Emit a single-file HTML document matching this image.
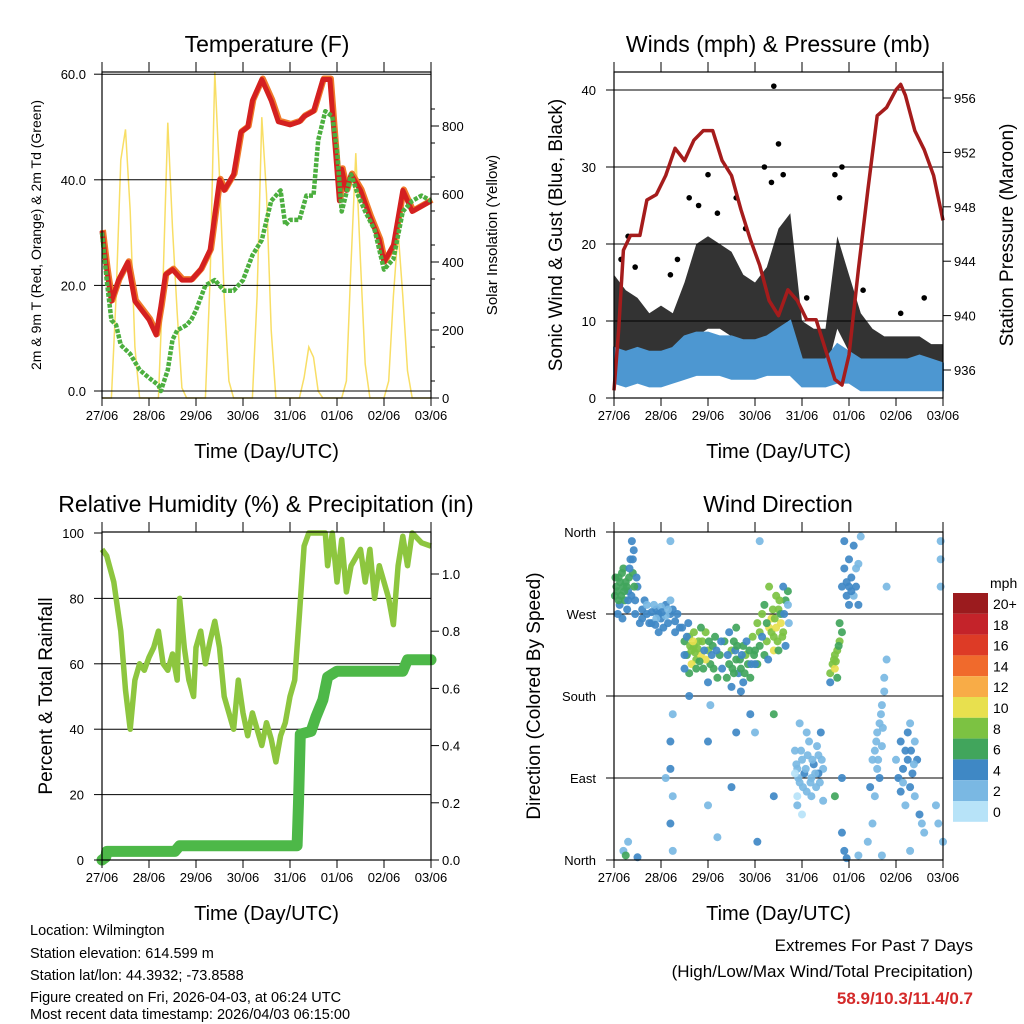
<!DOCTYPE html>
<html><head><meta charset="utf-8"><style>
body{margin:0;background:#fff;}
svg{display:block;font-family:"Liberation Sans",Arial,sans-serif;}
</style></head><body>
<svg id="chart" width="1024" height="1024" viewBox="0 0 1024 1024" xmlns="http://www.w3.org/2000/svg">
<rect width="1024" height="1024" fill="#fff"/>
<g id="g1"></g>
<g id="g2"></g>
<g id="g3"></g>
<g id="g4"></g>
<g font-size="14.5" fill="#000">
<text x="30" y="935">Location: Wilmington</text>
<text x="30" y="958">Station elevation: 614.599 m</text>
<text x="30" y="980">Station lat/lon: 44.3932; -73.8588</text>
<text x="30" y="1002">Figure created on Fri, 2026-04-03, at 06:24 UTC</text>
<text x="30" y="1024" dy="-5">Most recent data timestamp: 2026/04/03 06:15:00</text>
</g>
<g font-size="17" text-anchor="end">
<text x="973" y="951">Extremes For Past 7 Days</text>
<text x="973" y="977">(High/Low/Max Wind/Total Precipitation)</text>
<text x="973" y="1004" fill="#d42a2a" font-weight="bold">58.9/10.3/11.4/0.7</text>
</g>
</svg>
<script>
const dayLabels=["27/06","28/06","29/06","30/06","31/06","01/06","02/06","03/06"];
const tempT=[0,0.1,0.2,0.35,0.55,0.7,1.0,1.15,1.25,1.35,1.5,1.7,1.9,2.1,2.3,2.5,2.6,2.8,2.95,3.1,3.2,3.4,3.6,3.75,4.0,4.2,4.3,4.5,4.7,4.85,4.95,5.05,5.1,5.2,5.3,5.5,5.7,5.9,6.0,6.2,6.4,6.6,6.8,7.0];
const tempRed=[30.3,23,17,21,24.4,17,13.5,10.6,16,22,23,21,21,23,26.7,40,38,41,49,50,55,59,55,51,50.4,51,52,53,59,59,47.5,36,42,38,41,38,33,28.6,24.4,27.6,38,34,35,36];
const dewT=[0,0.1,0.2,0.3,0.4,0.6,0.8,1.0,1.2,1.25,1.4,1.5,1.6,1.8,1.9,2.0,2.2,2.4,2.6,2.8,3.0,3.2,3.4,3.6,3.8,3.9,4.0,4.2,4.35,4.5,4.6,4.75,4.9,5.0,5.1,5.3,5.45,5.6,5.8,6.0,6.2,6.4,6.6,6.8,7.0];
const dewGreen=[30,21,13.4,12.5,8.7,7,4,2.5,1.1,0,4,9.7,11.5,12.5,13.5,15.3,20,21,19,19,21,25.7,28.6,36,38,31.4,32.4,32.4,37,37,47.5,53,52,45.6,34,41,37,34,30.5,23,25,34,36,37,36];
const solar=[0,0,0,300,700,790,550,150,0,0, 0,0,0,350,810,500,250,30,0,0, 0,0,0,350,960,650,300,50,0,0, 0,0,0,300,826,600,200,0,0,0, 0,0,0,60,150,120,20,0,0,0, 0,0,50,400,720,400,100,0,0,0, 0,50,300,490,300,80,0,0,0,0,0];
const gustT=[0,0.25,0.5,0.75,1,1.25,1.5,1.75,2,2.25,2.5,2.75,3,3.25,3.5,3.75,4,4.25,4.5,4.75,5,5.25,5.5,5.75,6,6.25,6.5,6.75,7];
const gustLow=[5,4,4,3,4,4,6,8,9,9,8,6,6,6,8,8,4,3,3,9,6,4,3,3,2,3,2,2,2];
const gustHigh=[16,14,13,11,12,11,15,20,21,20,19,16,15,17,22,24,10,9,9,21,16,11,9,8,8,8,8,7,7];
const sonicLow=[2,1.5,2,1.5,1.5,2,2.5,3,3,3,2.5,2.5,2.5,3,3,3,1.5,1.5,1.5,2,2,1,1,1,1,1,1,1,1];
const sonicHigh=[6.5,6,6.5,6,6,6.5,8,8.5,8.5,8,8,7.5,7.5,8,9,10,5,5,5,7,6,5,5,5,5,5,5.5,5,4.5];
const gustOutT=[0.15,0.3,0.45,1.2,1.35,1.6,1.8,2.0,2.2,2.6,2.8,3.2,3.35,3.4,3.5,3.6,4.1,4.7,4.8,4.85,5.3,6.1,6.6];
const gustOutV=[18,21,17,16,18,26,25,29,24,26,22,30,28,40.5,33,29,13,29,26,30,14,11,13];
const presT=[0,0.1,0.2,0.35,0.55,0.7,0.9,1.1,1.3,1.5,1.7,1.9,2.1,2.3,2.5,2.7,2.9,3.1,3.3,3.5,3.7,3.9,4.1,4.3,4.5,4.7,4.85,5.0,5.2,5.4,5.6,5.8,6.0,6.1,6.2,6.4,6.6,6.8,7.0];
const presV=[934.5,939,944.8,945.9,945.9,948.5,948.9,950.3,952.3,951.4,952.9,953.6,953.6,951.4,950.3,947.8,945.6,943.7,941.1,940,941.9,941.1,939.7,939.7,937.5,935.3,934.9,937.1,943.4,949.2,954.7,955.3,956.6,957,956.2,953.6,952.2,950.3,947];
const rhT=[0,0.1,0.25,0.4,0.5,0.6,0.7,0.8,0.9,1.0,1.1,1.2,1.3,1.4,1.5,1.6,1.65,1.75,1.85,1.95,2.0,2.1,2.2,2.3,2.4,2.5,2.6,2.7,2.8,2.9,3.0,3.1,3.2,3.3,3.4,3.5,3.6,3.7,3.8,3.9,4.0,4.1,4.2,4.3,4.4,4.6,4.75,4.8,4.9,5.0,5.1,5.2,5.3,5.5,5.6,5.7,5.8,5.9,6.0,6.1,6.2,6.3,6.4,6.5,6.6,6.8,7.0];
const rhV=[95,93,85,70,52,40,55,60,58,62,65,70,60,58,63,55,80,65,55,50,65,70,60,67,73,65,50,45,40,55,45,38,45,40,35,42,37,30,38,42,50,55,75,96,100,100,100,90,100,85,98,82,90,95,85,95,80,90,85,80,72,90,99,90,100,97,96];
const precT=[0,0.08,0.1,1.55,1.65,4.15,4.18,4.22,4.45,4.55,4.7,4.8,5.0,6.4,6.5,7.0];
const precV=[0,0.01,0.03,0.03,0.05,0.05,0.2,0.44,0.45,0.5,0.56,0.64,0.66,0.66,0.7,0.7];
const dirPts=[[0.05,300,5],[0.1,310,6],[0.15,290,5],[0.2,320,6],[0.25,305,5],[0.3,295,4],[0.35,330,4],[0.4,315,6],[0.45,285,4],[0.5,300,4],[0.12,280,4],[0.22,295,6],[0.32,310,5],[0.42,340,4],[0.08,270,4],[0.02,290,5],[0.28,275,4],[0.38,350,3],[0.18,265,4],
[0.03,310,6],[0.07,295,6],[0.13,305,5],[0.17,315,6],[0.23,285,5],[0.27,300,6],[0.33,320,4],[0.37,290,4],[0.43,300,5],[0.48,310,4],[0.1,285,6],[0.2,300,5],[0.3,285,4],[0.4,330,4],[0.45,270,3],
[0.6,275,3],[0.7,270,4],[0.8,260,4],[0.9,275,3],[1.0,265,4],[1.1,280,3],[1.2,270,3],[0.65,285,3],[0.75,260,3],[0.85,280,2],[0.95,270,4],[1.05,255,3],[1.15,260,4],[1.25,275,3],[1.3,250,4],[0.55,260,4],[0.95,250,3],[1.2,285,2],
[0.6,265,4],[0.7,280,2],[0.8,272,4],[0.9,265,2],[1.0,278,2],[1.1,268,2],[0.88,258,4],[1.02,272,4],[1.15,275,2],[1.3,262,4],[1.35,270,4],[1.4,255,3],
[1.5,240,5],[1.55,225,6],[1.6,245,8],[1.65,230,8],[1.7,235,8],[1.75,220,7],[1.8,240,8],[1.85,225,9],[1.9,210,6],[1.95,250,7],[2.0,230,8],[2.05,215,6],[2.1,235,5],[2.15,245,6],[2.2,200,6],[2.25,225,5],[2.3,210,4],[1.65,215,10],[1.95,220,10],[1.7,250,7],[1.85,255,6],[1.6,205,5],[2.0,195,4],[2.35,240,6],
[1.5,225,4],[1.55,245,4],[1.62,235,8],[1.68,240,9],[1.72,228,8],[1.78,232,8],[1.82,218,6],[1.88,240,8],[1.92,230,4],[2.02,240,6],[2.08,225,4],[2.12,210,6],[2.18,230,4],[2.28,240,4],[1.75,210,6],[1.58,260,4],[1.45,255,4],[1.5,210,4],
[2.4,200,6],[2.45,215,6],[2.5,230,7],[2.55,240,5],[2.6,220,6],[2.65,205,4],[2.7,210,6],[2.75,235,5],[2.8,225,7],[2.85,215,6],[2.9,200,5],[2.95,245,7],[2.5,190,4],[2.7,185,4],[2.45,250,4],[2.6,255,5],
[2.42,225,4],[2.52,210,6],[2.58,230,4],[2.62,235,6],[2.68,220,6],[2.72,225,4],[2.78,205,6],[2.82,240,4],[2.88,230,6],[2.92,215,4],[2.98,225,6],[2.55,205,6],[2.75,195,4],
[3.0,230,6],[3.05,260,7],[3.1,250,8],[3.15,270,8],[3.2,280,6],[3.25,240,8],[3.3,255,9],[3.35,265,10],[3.4,245,8],[3.45,290,7],[3.5,275,8],[3.55,260,9],[3.6,250,7],[3.65,285,6],[3.7,295,5],[3.05,215,6],[3.2,225,5],[3.4,230,10],[3.3,300,8],[3.5,230,6],[3.6,300,3],[3.65,235,4],
[3.1,235,6],[3.15,245,4],[3.25,260,6],[3.35,250,8],[3.38,275,8],[3.42,265,8],[3.45,255,10],[3.48,240,8],[3.52,285,8],[3.55,270,6],[3.58,245,8],[3.62,270,4],[3.7,280,2],[3.72,260,2],[3.28,220,4],[3.0,215,4],
[3.85,120,1],[3.9,100,2],[3.95,85,2],[4.0,110,2],[4.05,95,3],[4.1,75,2],[4.15,130,2],[4.2,90,2],[4.25,105,4],[4.3,80,2],[4.35,115,2],[4.4,140,3],[4.45,100,2],[3.9,60,1],[4.0,50,0],[4.1,140,2],[4.2,70,2],[4.35,95,4],[4.45,65,2],[3.95,150,1],
[3.88,105,2],[3.92,90,2],[3.98,120,2],[4.02,80,2],[4.08,100,2],[4.12,115,2],[4.18,85,2],[4.22,110,2],[4.28,95,2],[4.32,125,2],[4.38,85,2],[4.42,110,2],[3.85,95,0],[3.9,70,0],
[4.6,205,7],[4.65,215,8],[4.7,225,8],[4.75,230,7],[4.8,240,8],[4.85,250,6],[4.7,210,9],[4.75,200,6],[4.6,195,4],[4.8,260,6],[4.68,220,8],[4.72,218,8],[4.78,235,6],
[4.85,300,3],[4.9,320,4],[4.95,290,4],[5.0,330,3],[5.05,310,4],[5.1,345,3],[5.15,300,4],[5.2,325,2],[5.25,355,2],[5.0,280,4],[5.1,290,2],[4.9,350,4],[5.2,280,3],[4.95,305,4],[5.05,295,4],[5.15,320,2],[5.0,300,4],
[5.5,110,2],[5.55,120,2],[5.6,140,2],[5.65,150,2],[5.7,170,2],[5.75,185,2],[5.6,100,2],[5.65,90,4],[5.55,70,2],[5.7,125,1],[5.75,200,2],[5.8,220,2],[5.5,40,2],[5.45,80,4],[5.58,130,2],[5.62,110,2],[5.68,160,2],[5.72,145,2],
[6.0,110,2],[6.05,90,4],[6.1,130,4],[6.15,100,3],[6.2,120,4],[6.25,140,4],[6.3,80,3],[6.35,95,4],[6.4,70,2],[6.45,110,3],[6.5,50,3],[6.55,40,2],[6.6,30,2],[6.2,60,2],[6.3,150,1],[6.1,75,4],[6.4,130,2],[6.25,110,4],[6.32,120,4],[6.38,105,2],[6.15,85,2],
[6.95,330,2],[6.95,350,2],[6.95,300,1],[7.0,20,2],[6.9,40,2],[6.85,60,2],
[0.2,10,2],[0.25,5,6],[0.3,20,2],[1.2,350,2],[1.2,40,3],[1.25,70,2],[1.2,100,3],[1.25,160,2],[1.2,130,4],[1.25,10,2],[2.0,130,4],[2.0,60,2],[2.05,170,2],[2.2,25,2],[2.5,80,4],[2.6,140,4],[3.0,140,2],[3.05,20,4],[3.4,70,4],[3.4,160,6],[2.9,160,4],[1.6,180,4],[4.7,70,6],[4.85,90,4],[4.85,30,4],[4.9,10,4],[4.95,2,4],[3.1,350,2],[1.1,90,2],[0.5,3,4],[5.2,5,2],[5.4,20,2],[5.8,300,2],[5.7,5,1],[6.3,10,2]];
const speedLabels=["20+","18","16","14","12","10","8","6","4","2","0"];
const speedColors=["#9b1b1e","#c4232a","#dd3b26","#f06a2c","#f8ac47","#e8e04e","#7cc242","#41a55c","#3f88c5","#7ab8e3","#b7e3f8"];

const NS="http://www.w3.org/2000/svg";
function mk(parent,tag,attrs,txt){const e=document.createElementNS(NS,tag);for(const k in attrs)e.setAttribute(k,attrs[k]);if(txt!==undefined)e.textContent=txt;parent.appendChild(e);return e;}
function poly(pts){return pts.map(p=>p[0].toFixed(1)+","+p[1].toFixed(1)).join(" ");}

function frame(g,x0,x1,y0,y1,title,tx,xlabel){
  const r=mk(g,'rect',{x:x0,y:y0,width:x1-x0,height:y1-y0,fill:'none',stroke:'#000','stroke-width':1.2});
  
  
  const t=mk(g,'text',{x:tx,y:y0-20,'font-size':23,'text-anchor':'middle'},title);
  
  
  for(let i=0;i<dayLabels.length;i++){
    const x=x0+i*47;
    mk(g,'line',{x1:x,x2:x,y1:y1,y2:y1+8,stroke:'#000'});
    mk(g,'line',{x1:x,x2:x,y1:y0-10,y2:y0,stroke:'#000'});
    const l=mk(g,'text',{x:x,y:y1+22,'font-size':13,'text-anchor':'middle'},dayLabels[i]);
    
    
  }
  const xl=mk(g,'text',{x:(x0+x1)/2,y:y1+60,'font-size':20,'text-anchor':'middle'},xlabel);
  
  
}
function ylabel(g,x,y,txt,fs,name){
  const t=mk(g,'text',{x:0,y:0,'font-size':fs,'text-anchor':'middle',transform:`translate(${x},${y}) rotate(-90)`},txt);
  
  
}

// Panel 1: temperature
(function(){
  const g=document.getElementById('g1');
  const x0=102,x1=431,y0=72,y1=398;
  const X=t=>x0+t*47, Y=v=>391-v*5.28, YS=v=>398-v*0.34;
  const sp=[];solar.forEach((v,i)=>sp.push([X(i*0.1),YS(v)]));
  const sl=mk(g,'polyline',{points:poly(sp),fill:'none',stroke:'#f7d84a','stroke-width':1.5,opacity:0.85});
  
  
  [0,20,40,60].forEach(v=>{mk(g,'line',{x1:x0,x2:x1,y1:Y(v),y2:Y(v),stroke:'#000','stroke-width':1});
    const l=mk(g,'text',{x:x0-16,y:Y(v)+5,'font-size':13,'text-anchor':'end'},v.toFixed(1));
    
    
    mk(g,'line',{x1:x0-8,x2:x0,y1:Y(v),y2:Y(v),stroke:'#000'});});
  [0,200,400,600,800].forEach(v=>{mk(g,'line',{x1:x1,x2:x1+8,y1:YS(v),y2:YS(v),stroke:'#000'});
    const l=mk(g,'text',{x:x1+11,y:YS(v)+5,'font-size':13},String(v));
    
    });
  for(let v=50;v<950;v+=100)mk(g,'line',{x1:x1,x2:x1+4,y1:YS(v),y2:YS(v),stroke:'#000'});
  const rp=tempT.map((t,i)=>[X(t),Y(tempRed[i])]);
  const o=mk(g,'polyline',{points:poly(rp.map(p=>[p[0]+1,p[1]-1])),fill:'none',stroke:'#f07a2a','stroke-width':6,'stroke-linejoin':'round'});
  
  
  const r=mk(g,'polyline',{points:poly(rp),fill:'none',stroke:'#d42020','stroke-width':5,'stroke-linejoin':'round'});
  
  
  const gp=dewT.map((t,i)=>[X(t),Y(dewGreen[i])]);
  const d=mk(g,'polyline',{points:poly(gp),fill:'none',stroke:'#4caf3f','stroke-width':4.5,'stroke-dasharray':'4 1.5','stroke-linejoin':'round'});
  
  
  frame(g,x0,x1,y0,y1,'Temperature (F)',267,'Time (Day/UTC)');
  ylabel(g,41,235,'2m & 9m T (Red, Orange) & 2m Td (Green)',14,'y-axis-title');
  ylabel(g,497,235,'Solar Insolation (Yellow)',15,'right-axis-title');
})();

// Panel 2: winds and pressure
(function(){
  const g=document.getElementById('g2');
  const x0=614,x1=943,y0=72,y1=398;
  const X=t=>x0+t*47, Y=v=>398-v*7.7, YP=p=>370-(p-936)*13.6;
  [10,20,30,40].forEach(v=>mk(g,'line',{x1:x0,x2:x1,y1:Y(v),y2:Y(v),stroke:'#000'}));
  const up=gustT.map((t,i)=>[X(t),Y(gustHigh[i])]), lo=gustT.map((t,i)=>[X(t),Y(gustLow[i])]).reverse();
  const ga=mk(g,'polygon',{points:poly(up.concat(lo)),fill:'#000',stroke:'none',opacity:0.8});
  
  
  gustOutT.forEach((t,i)=>{const c=mk(g,'circle',{cx:X(t),cy:Y(gustOutV[i]),r:2.8,fill:'#000'});
    
    });
  const su=gustT.map((t,i)=>[X(t),Y(sonicHigh[i])]), sl=gustT.map((t,i)=>[X(t),Y(sonicLow[i])]).reverse();
  const sa=mk(g,'polygon',{points:poly(su.concat(sl)),fill:'#4d97d1',stroke:'#4d97d1','stroke-width':2});
  
  
  const pp=presT.map((t,i)=>[X(t),YP(presV[i])]);
  const pl=mk(g,'polyline',{points:poly(pp),fill:'none',stroke:'#a51c1c','stroke-width':3.5,'stroke-linejoin':'round'});
  
  
  [0,10,20,30,40].forEach(v=>{mk(g,'line',{x1:x0-8,x2:x0,y1:Y(v),y2:Y(v),stroke:'#000'});
    const l=mk(g,'text',{x:x0-18,y:Y(v)+5,'font-size':13,'text-anchor':'end'},String(v));
    
    });
  [936,940,944,948,952,956].forEach(v=>{mk(g,'line',{x1:x1,x2:x1+8,y1:YP(v),y2:YP(v),stroke:'#000'});
    const l=mk(g,'text',{x:x1+11,y:YP(v)+5,'font-size':13},String(v));
    
    });
  frame(g,x0,x1,y0,y1,'Winds (mph) & Pressure (mb)',778,'Time (Day/UTC)');
  ylabel(g,562,235,'Sonic Wind & Gust (Blue, Black)',19,'y-axis-title');
  ylabel(g,1013,235,'Station Pressure (Maroon)',19,'right-axis-title');
})();

// Panel 3: humidity and precipitation
(function(){
  const g=document.getElementById('g3');
  const x0=102,x1=431,y0=532,y1=860;
  const X=t=>x0+t*47, Y=v=>860-v*3.27, YR=v=>860-v*286;
  [20,40,60,80].forEach(v=>mk(g,'line',{x1:x0,x2:x1,y1:Y(v),y2:Y(v),stroke:'#000'}));
  const rp=rhT.map((t,i)=>[X(t),Y(rhV[i])]);
  const rl=mk(g,'polyline',{points:poly(rp),fill:'none',stroke:'#8dc63f','stroke-width':5.5,'stroke-linejoin':'round'});
  
  
  const pp=precT.map((t,i)=>[X(t),YR(precV[i])]);
  const pl=mk(g,'polyline',{points:poly(pp),fill:'none',stroke:'#4db848','stroke-width':11,'stroke-linejoin':'round','stroke-linecap':'round'});
  
  
  [0,20,40,60,80,100].forEach(v=>{mk(g,'line',{x1:x0-8,x2:x0,y1:Y(v),y2:Y(v),stroke:'#000'});
    const l=mk(g,'text',{x:x0-18,y:Y(v)+5,'font-size':13,'text-anchor':'end'},String(v));
    
    });
  [0,0.2,0.4,0.6,0.8,1.0].forEach(v=>{mk(g,'line',{x1:x1,x2:x1+8,y1:YR(v),y2:YR(v),stroke:'#000'});
    const l=mk(g,'text',{x:x1+11,y:YR(v)+5,'font-size':13},v.toFixed(1));
    
    });
  frame(g,x0,x1,y0,y1,'Relative Humidity (%) & Precipitation (in)',266,'Time (Day/UTC)');
  ylabel(g,52,696,'Percent & Total Rainfall',19,'y-axis-title');
})();

// Panel 4: wind direction
(function(){
  const g=document.getElementById('g4');
  const x0=614,x1=943,y0=532,y1=860;
  const X=t=>x0+t*47, Y=d=>860-d/360*328;
  const dirNames=["North","East","South","West","North"];
  [0,90,180,270,360].forEach((d,i)=>{mk(g,'line',{x1:x0-8,x2:x1,y1:Y(d),y2:Y(d),stroke:'#000'});
    const l=mk(g,'text',{x:x0-18,y:Y(d)+5,'font-size':13,'text-anchor':'end'},dirNames[i]);
    
    });
  const colorFor=s=>speedColors[10-Math.min(10,Math.round(s/2))];
  dirPts.forEach(p=>{const c=mk(g,'circle',{cx:X(p[0]),cy:Y(p[1]),r:4,fill:colorFor(p[2]),opacity:0.92});
    
    });
  frame(g,x0,x1,y0,y1,'Wind Direction',778,'Time (Day/UTC)');
  ylabel(g,540,696,'Direction (Colored By Speed)',19,'y-axis-title');
  const lg=mk(g,'g',{});
  
  
  mk(lg,'text',{x:990,y:588,'font-size':14},'mph');
  speedLabels.forEach((s,i)=>{const y=593+i*20.8;
    const b=mk(lg,'rect',{x:953,y:y,width:35,height:20.8,fill:speedColors[i]});
    
    
    const l=mk(lg,'text',{x:993,y:y+16,'font-size':14},s);
    
    });
})();
</script>
</body></html>
